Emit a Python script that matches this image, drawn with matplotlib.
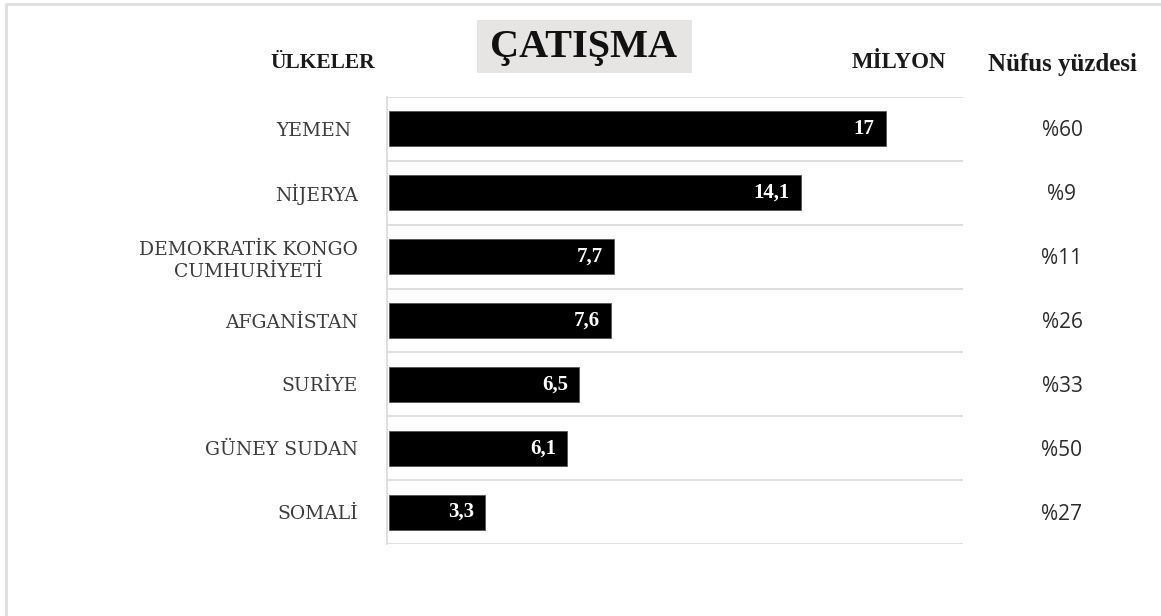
#!/usr/bin/env python3
"""Çatışma: horizontal bar chart of people affected (milyon) per country,
with population share column on the right."""
import matplotlib

matplotlib.use("Agg")
import matplotlib.pyplot as plt  # noqa: E402
from matplotlib.patches import Rectangle  # noqa: E402

W, H = 1161, 616

countries = ["YEMEN ", "NİJERYA", "DEMOKRATİK KONGO\nCUMHURİYETİ", "AFGANİSTAN",
             "SURİYE", "GÜNEY SUDAN", "SOMALİ"]
milyon = [17, 14.1, 7.7, 7.6, 6.5, 6.1, 3.3]
milyon_labels = ["17", "14,1", "7,7", "7,6", "6,5", "6,1", "3,3"]
nufus_yuzdesi = ["%60", "%9", "%11", "%26", "%33", "%50", "%27"]

GRID = "#d9d9d9"
LABEL_GREY = "#3c3c3c"
SERIF = ["Liberation Serif", "DejaVu Serif"]


def fx(px):
    return px / W


def fy(py):
    return 1.0 - py / H


fig = plt.figure(figsize=(W / 100, H / 100), dpi=100, facecolor="white")

# light frame of the original slide (only top/left visible)
fig.patches.append(Rectangle((fx(6), fy(H + 20)), 1.2, fy(4) - fy(H + 20),
                             transform=fig.transFigure, fill=False,
                             edgecolor="#dedede", lw=2))

ax = fig.add_axes([fx(387), fy(544), fx(963) - fx(387), fy(97) - fy(544)])
y = list(range(len(countries)))
ax.barh(y, milyon, height=0.55, color="black", edgecolor="#555555", lw=0.6)
ax.set_xlim(-0.07, 19.65)
ax.set_ylim(len(countries) - 0.5, -0.5)

# row separators
for b in [i - 0.5 for i in range(len(countries) + 1)]:
    ax.axhline(b, color=GRID, lw=1.2, zorder=0)
for s in ["top", "right", "bottom"]:
    ax.spines[s].set_visible(False)
ax.spines["left"].set_color(GRID)
ax.spines["left"].set_linewidth(1.2)
ax.set_xticks([])
ax.set_yticks(y)
ax.set_yticklabels(countries, family="DejaVu Serif", fontsize=13.5,
                   color=LABEL_GREY, multialignment="center", linespacing=1.3)
ax.tick_params(axis="y", length=0, pad=21)

for yi, v, lab in zip(y, milyon, milyon_labels):
    ax.annotate(lab, (v, yi), xytext=(-8, 0), textcoords="offset points",
                ha="right", va="center", color="white", fontsize=15,
                fontweight="bold", family=SERIF)
    ax.annotate(nufus_yuzdesi[yi], (1, yi), xycoords=("axes fraction", "data"),
                xytext=(1062 - 963, -2), textcoords="offset pixels",
                ha="center", va="center", color="#2b2b2b", fontsize=15,
                family=["Open Sans", "DejaVu Sans"])

# headers
fig.patches.append(Rectangle((fx(477), fy(73)), fx(692) - fx(477), fy(20) - fy(73),
                             transform=fig.transFigure, color="#e7e4e4", lw=0))
fig.text(fx(583), fy(47), "ÇATIŞMA", ha="center", va="center", fontsize=29,
         fontweight="bold", family=SERIF, color="#111111")
fig.text(fx(323), fy(63), "ÜLKELER", ha="center", va="center", fontsize=15.5,
         fontweight="bold", family=SERIF, color="#1a1a1a")
fig.text(fx(899), fy(63), "MİLYON", ha="center", va="center", fontsize=16.5,
         fontweight="bold", family=SERIF, color="#1a1a1a")
fig.text(fx(1062), fy(64), "Nüfus yüzdesi", ha="center", va="center", fontsize=18,
         fontweight="bold", family=SERIF, color="#1a1a1a")

fig.savefig("out.png", dpi=100, facecolor="white")
